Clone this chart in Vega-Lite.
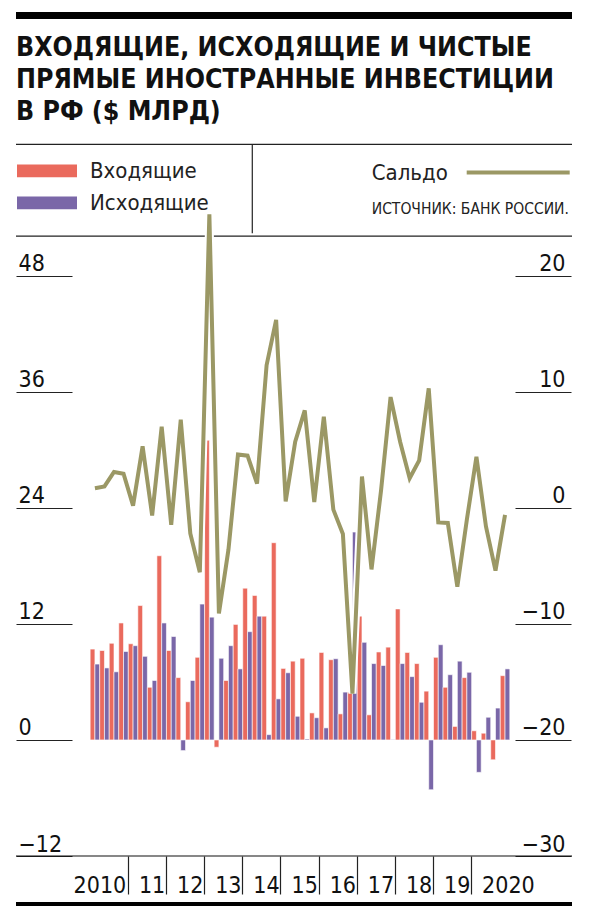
{
  "$schema": "https://vega.github.io/schema/vega-lite/v6.json",
  "width": 556,
  "height": 712,
  "autosize": "none",
  "padding": {"left": 16, "top": 144, "right": 18, "bottom": 50},
  "background": "white",
  "config": {
    "view": {"stroke": null},
    "font": "Liberation Sans Narrow, DejaVu Sans Condensed, Roboto Condensed, Liberation Sans, sans-serif",
    "axis": {"labelFont": "Liberation Sans Narrow, DejaVu Sans Condensed, Roboto Condensed, Liberation Sans, sans-serif"},
    "legend": {"labelFont": "Liberation Sans Narrow, DejaVu Sans Condensed, Roboto Condensed, Liberation Sans, sans-serif", "titleFont": "Liberation Sans Narrow, DejaVu Sans Condensed, Roboto Condensed, Liberation Sans, sans-serif"}
  },
  "title": {
    "text": ["ВХОДЯЩИЕ, ИСХОДЯЩИЕ И ЧИСТЫЕ", "ПРЯМЫЕ ИНОСТРАННЫЕ ИНВЕСТИЦИИ", "В РФ ($ МЛРД)"],
    "anchor": "start",
    "frame": "group",
    "font": "Liberation Sans Narrow, DejaVu Sans Condensed, Roboto Condensed, Liberation Sans, sans-serif",
    "fontSize": 26.5,
    "fontWeight": "bold",
    "lineHeight": 32,
    "color": "#111111",
    "offset": -114
  },
  "datasets": {
    "bars": [
      {"q": "2010-1", "series": "Входящие", "value": 9.4}, {"q": "2010-1", "series": "Исходящие", "value": 7.85},
      {"q": "2010-2", "series": "Входящие", "value": 9.25}, {"q": "2010-2", "series": "Исходящие", "value": 7.45},
      {"q": "2010-3", "series": "Входящие", "value": 10.0}, {"q": "2010-3", "series": "Исходящие", "value": 7.05},
      {"q": "2010-4", "series": "Входящие", "value": 12.1}, {"q": "2010-4", "series": "Исходящие", "value": 9.15},
      {"q": "2011-1", "series": "Входящие", "value": 9.95}, {"q": "2011-1", "series": "Исходящие", "value": 9.75},
      {"q": "2011-2", "series": "Входящие", "value": 13.9}, {"q": "2011-2", "series": "Исходящие", "value": 8.65},
      {"q": "2011-3", "series": "Входящие", "value": 5.45}, {"q": "2011-3", "series": "Исходящие", "value": 6.15},
      {"q": "2011-4", "series": "Входящие", "value": 19.05}, {"q": "2011-4", "series": "Исходящие", "value": 12.1},
      {"q": "2012-1", "series": "Входящие", "value": 9.25}, {"q": "2012-1", "series": "Исходящие", "value": 10.7},
      {"q": "2012-2", "series": "Входящие", "value": 6.45}, {"q": "2012-2", "series": "Исходящие", "value": -1.1},
      {"q": "2012-3", "series": "Входящие", "value": 3.95}, {"q": "2012-3", "series": "Исходящие", "value": 6.15},
      {"q": "2012-4", "series": "Входящие", "value": 8.55}, {"q": "2012-4", "series": "Исходящие", "value": 14.05},
      {"q": "2013-1", "series": "Входящие", "value": 31.0}, {"q": "2013-1", "series": "Исходящие", "value": 12.7},
      {"q": "2013-2", "series": "Входящие", "value": -0.75}, {"q": "2013-2", "series": "Исходящие", "value": 8.45},
      {"q": "2013-3", "series": "Входящие", "value": 6.15}, {"q": "2013-3", "series": "Исходящие", "value": 9.75},
      {"q": "2013-4", "series": "Входящие", "value": 11.95}, {"q": "2013-4", "series": "Исходящие", "value": 7.35},
      {"q": "2014-1", "series": "Входящие", "value": 15.7}, {"q": "2014-1", "series": "Исходящие", "value": 11.2},
      {"q": "2014-2", "series": "Входящие", "value": 14.95}, {"q": "2014-2", "series": "Исходящие", "value": 12.8},
      {"q": "2014-3", "series": "Входящие", "value": 12.8}, {"q": "2014-3", "series": "Исходящие", "value": 0.55},
      {"q": "2014-4", "series": "Входящие", "value": 20.4}, {"q": "2014-4", "series": "Исходящие", "value": 4.25},
      {"q": "2015-1", "series": "Входящие", "value": 7.4}, {"q": "2015-1", "series": "Исходящие", "value": 6.95},
      {"q": "2015-2", "series": "Входящие", "value": 8.15}, {"q": "2015-2", "series": "Исходящие", "value": 2.45},
      {"q": "2015-3", "series": "Входящие", "value": 8.45}, {"q": "2015-3", "series": "Исходящие", "value": 0.1},
      {"q": "2015-4", "series": "Входящие", "value": 2.8}, {"q": "2015-4", "series": "Исходящие", "value": 2.3},
      {"q": "2016-1", "series": "Входящие", "value": 9.05}, {"q": "2016-1", "series": "Исходящие", "value": 1.25},
      {"q": "2016-2", "series": "Входящие", "value": 8.3}, {"q": "2016-2", "series": "Исходящие", "value": 8.4},
      {"q": "2016-3", "series": "Входящие", "value": 2.7}, {"q": "2016-3", "series": "Исходящие", "value": 4.95},
      {"q": "2016-4", "series": "Входящие", "value": 4.95}, {"q": "2016-4", "series": "Исходящие", "value": 21.5},
      {"q": "2017-1", "series": "Входящие", "value": 12.8}, {"q": "2017-1", "series": "Исходящие", "value": 10.1},
      {"q": "2017-2", "series": "Входящие", "value": 2.6}, {"q": "2017-2", "series": "Исходящие", "value": 7.9},
      {"q": "2017-3", "series": "Входящие", "value": 9.1}, {"q": "2017-3", "series": "Исходящие", "value": 7.7},
      {"q": "2017-4", "series": "Входящие", "value": 9.6}, {"q": "2017-4", "series": "Исходящие", "value": 0.05},
      {"q": "2018-1", "series": "Входящие", "value": 13.55}, {"q": "2018-1", "series": "Исходящие", "value": 7.9},
      {"q": "2018-2", "series": "Входящие", "value": 9.05}, {"q": "2018-2", "series": "Исходящие", "value": 6.55},
      {"q": "2018-3", "series": "Входящие", "value": 7.9}, {"q": "2018-3", "series": "Исходящие", "value": 3.9},
      {"q": "2018-4", "series": "Входящие", "value": 5.05}, {"q": "2018-4", "series": "Исходящие", "value": -5.15},
      {"q": "2019-1", "series": "Входящие", "value": 8.55}, {"q": "2019-1", "series": "Исходящие", "value": 9.85},
      {"q": "2019-2", "series": "Входящие", "value": 5.45}, {"q": "2019-2", "series": "Исходящие", "value": 6.75},
      {"q": "2019-3", "series": "Входящие", "value": 1.4}, {"q": "2019-3", "series": "Исходящие", "value": 8.15},
      {"q": "2019-4", "series": "Входящие", "value": 6.45}, {"q": "2019-4", "series": "Исходящие", "value": 7.0},
      {"q": "2020-1", "series": "Входящие", "value": 0.95}, {"q": "2020-1", "series": "Исходящие", "value": -3.35},
      {"q": "2020-2", "series": "Входящие", "value": 0.7}, {"q": "2020-2", "series": "Исходящие", "value": 2.35},
      {"q": "2020-3", "series": "Входящие", "value": -2.05}, {"q": "2020-3", "series": "Исходящие", "value": 3.3},
      {"q": "2020-4", "series": "Входящие", "value": 6.65}, {"q": "2020-4", "series": "Исходящие", "value": 7.35}
    ],
    "saldo": [
      {"q": "2010-1", "saldo": 1.7}, {"q": "2010-2", "saldo": 1.85}, {"q": "2010-3", "saldo": 3.1}, {"q": "2010-4", "saldo": 2.95},
      {"q": "2011-1", "saldo": 0.2}, {"q": "2011-2", "saldo": 5.3}, {"q": "2011-3", "saldo": -0.65}, {"q": "2011-4", "saldo": 7.0},
      {"q": "2012-1", "saldo": -1.45}, {"q": "2012-2", "saldo": 7.6}, {"q": "2012-3", "saldo": -2.2}, {"q": "2012-4", "saldo": -5.55},
      {"q": "2013-1", "saldo": 25.3}, {"q": "2013-2", "saldo": -9.1}, {"q": "2013-3", "saldo": -3.6}, {"q": "2013-4", "saldo": 4.6},
      {"q": "2014-1", "saldo": 4.5}, {"q": "2014-2", "saldo": 2.1}, {"q": "2014-3", "saldo": 12.3}, {"q": "2014-4", "saldo": 16.2},
      {"q": "2015-1", "saldo": 0.55}, {"q": "2015-2", "saldo": 5.7}, {"q": "2015-3", "saldo": 8.4}, {"q": "2015-4", "saldo": 0.5},
      {"q": "2016-1", "saldo": 7.85}, {"q": "2016-2", "saldo": -0.15}, {"q": "2016-3", "saldo": -2.25}, {"q": "2016-4", "saldo": -16.0},
      {"q": "2017-1", "saldo": 2.7}, {"q": "2017-2", "saldo": -5.3}, {"q": "2017-3", "saldo": 1.5}, {"q": "2017-4", "saldo": 9.55},
      {"q": "2018-1", "saldo": 5.7}, {"q": "2018-2", "saldo": 2.55}, {"q": "2018-3", "saldo": 4.1}, {"q": "2018-4", "saldo": 10.3},
      {"q": "2019-1", "saldo": -1.25}, {"q": "2019-2", "saldo": -1.3}, {"q": "2019-3", "saldo": -6.8}, {"q": "2019-4", "saldo": -1.0},
      {"q": "2020-1", "saldo": 4.4}, {"q": "2020-2", "saldo": -1.6}, {"q": "2020-3", "saldo": -5.4}, {"q": "2020-4", "saldo": -0.6}
    ]
  },
  "layer": [
    {
      "layer": [
        {
          "data": {"values": [{}]},
          "mark": {"type": "rule", "color": "#000000", "strokeWidth": 7},
          "encoding": {"y": {"datum": 74.92, "type": "quantitative", "scale": {"domain": [-12, 61.63], "nice": false, "zero": false}}}
        },
        {
          "data": {"values": [{}]},
          "mark": {"type": "rule", "color": "#000000", "strokeWidth": 6},
          "encoding": {"y": {"datum": -17.07, "type": "quantitative", "scale": {"domain": [-12, 61.63], "nice": false, "zero": false}}}
        },
        {
          "data": {"values": [{}]},
          "mark": {"type": "rule", "color": "#111111", "strokeWidth": 1.2},
          "encoding": {"y": {"datum": -12, "type": "quantitative", "scale": {"domain": [-12, 61.63], "nice": false, "zero": false}}}
        },
        {
          "data": {"values": [{}]},
          "mark": {"type": "rule", "color": "#222222", "strokeWidth": 1.2},
          "encoding": {"y": {"datum": 61.6, "type": "quantitative", "scale": {"domain": [-12, 61.63], "nice": false, "zero": false}}}
        },
        {
          "data": {"values": [{}]},
          "mark": {"type": "rule", "color": "#222222", "strokeWidth": 1.2},
          "encoding": {"y": {"datum": 52.1, "type": "quantitative", "scale": {"domain": [-12, 61.63], "nice": false, "zero": false}}}
        },
        {
          "data": {"values": [{}]},
          "mark": {"type": "rule", "color": "#222222", "strokeWidth": 1.2},
          "encoding": {
            "x": {"datum": "2014-2", "type": "ordinal", "bandPosition": 0},
            "y": {"datum": 61.6, "type": "quantitative", "scale": {"domain": [-12, 61.63], "nice": false, "zero": false}},
            "y2": {"datum": 52.4}
          }
        },
        {
          "data": {"name": "bars"},
          "mark": {"type": "bar", "stroke": "white", "strokeWidth": 0.6},
          "encoding": {
            "x": {
              "field": "q",
              "type": "ordinal",
              "scale": {"range": [74.15, 493.8], "paddingInner": 0, "paddingOuter": 0},
              "axis": {
                "orient": "bottom",
                "title": null,
                "values": ["2010-1", "2011-1", "2012-1", "2013-1", "2014-1", "2015-1", "2016-1", "2017-1", "2018-1", "2019-1", "2020-1"],
                "bandPosition": 0,
                "domain": false,
                "ticks": true,
                "tickSize": 38,
                "tickColor": "#222222",
                "tickWidth": 1.2,
                "tickOpacity": {"condition": {"test": "datum.value === '2010-1'", "value": 0}, "value": 1},
                "labelExpr": "datum.value === '2010-1' ? '2010' : datum.value === '2020-1' ? '2020' : substring(datum.value, 2, 4)",
                "labelAngle": 0,
                "labelAlign": "center",
                "labelBaseline": "alphabetic",
                "labelPadding": -2,
                "labelOffset": {"condition": [{"test": "datum.value === '2010-1'", "value": 5}, {"test": "datum.value === '2020-1'", "value": 32}], "value": 19},
                "labelOverlap": false,
                "labelBound": false,
                "labelFlush": false,
                "labelFontSize": 23,
                "labelColor": "#111111"
              }
            },
            "xOffset": {"field": "series", "type": "nominal", "scale": {"domain": ["Входящие", "Исходящие"], "paddingInner": 0, "paddingOuter": 0}},
            "y": {
              "field": "value",
              "type": "quantitative",
              "scale": {"domain": [-12, 61.63], "nice": false, "zero": false},
              "axis": {
                "orient": "left",
                "offset": -56,
                "title": null,
                "values": [-12, 0, 12, 24, 36, 48],
                "format": "d",
                "domain": false,
                "ticks": true,
                "tickSize": 56,
                "tickColor": "#222222",
                "tickWidth": 1.2,
                "grid": false,
                "labelAlign": "left",
                "labelBaseline": "alphabetic",
                "labelPadding": -2,
                "labelOffset": -5,
                "labelFontSize": 23,
                "labelColor": "#111111"
              }
            },
            "color": {
              "field": "series",
              "type": "nominal",
              "scale": {"domain": ["Входящие", "Исходящие"], "range": ["#EA6A5D", "#7A67A8"]},
              "legend": {
                "orient": "none",
                "legendX": 1,
                "legendY": 11,
                "title": null,
                "direction": "vertical",
                "padding": 0,
                "clipHeight": 31.7,
                "symbolType": "M-1,-0.21H1V0.21H-1Z",
                "symbolSize": 3600,
                "symbolStrokeWidth": 0,
                "symbolOpacity": 1,
                "labelFontSize": 22,
                "labelColor": "#222222",
                "labelOffset": 13,
                "rowPadding": 0
              }
            }
          }
        }
      ]
    },
    {
      "data": {"name": "saldo"},
      "layer": [
        {
          "mark": {"type": "line", "stroke": "white", "strokeWidth": 8},
          "encoding": {
            "x": {"field": "q", "type": "ordinal"},
            "y": {
              "field": "saldo",
              "type": "quantitative",
              "scale": {"domain": [-30, 31.36], "nice": false, "zero": false},
              "axis": {
                "orient": "right", "offset": -57, "title": null, "values": [-30, -20, -10, 0, 10, 20], "format": "d",
                "domain": false, "ticks": true, "tickSize": 56, "tickColor": "#222222", "tickWidth": 1.2, "grid": false,
                "labelAlign": "right", "labelBaseline": "alphabetic", "labelPadding": -6, "labelOffset": -5,
                "labelFontSize": 23, "labelColor": "#111111"
              }
            }
          }
        },
        {
          "mark": {"type": "line", "strokeWidth": 4},
          "encoding": {
            "x": {"field": "q", "type": "ordinal"},
            "y": {
              "field": "saldo",
              "type": "quantitative",
              "scale": {"domain": [-30, 31.36], "nice": false, "zero": false},
              "axis": {
                "orient": "right", "offset": -57, "title": null, "values": [-30, -20, -10, 0, 10, 20], "format": "d",
                "domain": false, "ticks": true, "tickSize": 56, "tickColor": "#222222", "tickWidth": 1.2, "grid": false,
                "labelAlign": "right", "labelBaseline": "alphabetic", "labelPadding": -6, "labelOffset": -5,
                "labelFontSize": 23, "labelColor": "#111111"
              }
            },
            "stroke": {
              "datum": "Сальдо",
              "type": "nominal",
              "scale": {"range": ["#9B9865"]},
              "legend": {
                "orient": "none",
                "legendX": 355.7,
                "legendY": -25,
                "title": "ИСТОЧНИК: БАНК РОССИИ.",
                "titleOrient": "bottom",
                "titleAnchor": "start",
                "titleFontSize": 15.5,
                "titleFontWeight": "normal",
                "titleColor": "#222222",
                "titlePadding": 18,
                "titleLimit": 0,
                "padding": 0,
                "symbolType": "stroke",
                "symbolSize": 10609,
                "symbolStrokeWidth": 4,
                "symbolOffset": 93,
                "labelOffset": -200,
                "labelFontSize": 22,
                "labelColor": "#222222"
              }
            }
          }
        }
      ]
    }
  ],
  "resolve": {"scale": {"y": "independent"}}
}
